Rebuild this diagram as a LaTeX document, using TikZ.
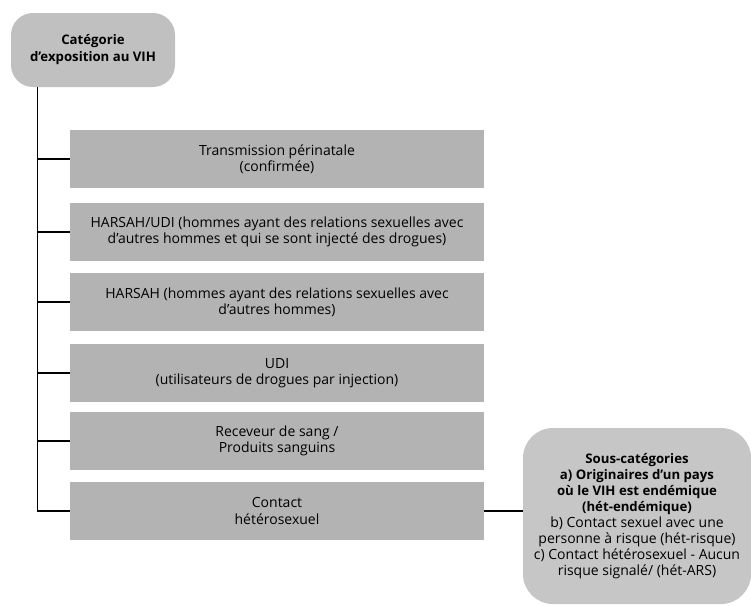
\documentclass[tikz,border=0pt]{standalone}
\usepackage{fontspec}
\setmainfont{Open Sans}
\usepackage{tikz}
\usetikzlibrary{positioning}

\definecolor{catgray}{HTML}{C0C0C0}
\definecolor{boxgray}{HTML}{B3B3B3}
\definecolor{subgray}{HTML}{C6C6C6}
\newcommand{\subhead}[1]{{\fontsize{13.2}{16}\selectfont\bfseries #1}}

\begin{document}
\begin{tikzpicture}[
                    x=1pt, y=-1pt,
                    every node/.style={font=\fontsize{14}{16.4}\selectfont},
                    cat/.style={fill=catgray, rounded corners=22pt, align=center, minimum width=164pt, minimum height=74pt, font=\fontsize{13.2}{17}\selectfont\bfseries},
                    entry/.style={fill=boxgray, align=center, minimum width=414pt, minimum height=58pt},
                    sub/.style={fill=subgray, rounded corners=30pt, align=center, minimum width=228pt, minimum height=176pt, inner sep=0pt, font=\fontsize{14}{16}\selectfont},
                    link/.style={line width=1.2pt, black}
                ]
                    \useasboundingbox (0,0) rectangle (751,605);

                    % Main category
                    \node[cat] (Cat) at (93,50) {Catégorie\\d’exposition au VIH};

                    % Categories
                    \node[entry] (B1) at (277,159) {Transmission périnatale\\(confirmée)};
                    \node[entry] (B2) at (277,232) {HARSAH/UDI (hommes ayant des relations sexuelles avec\\d’autres hommes et qui se sont injecté des drogues)};
                    \node[entry] (B3) at (277,302) {HARSAH (hommes ayant des relations sexuelles avec\\d’autres hommes)};
                    \node[entry] (B4) at (277,373) {UDI\\(utilisateurs de drogues par injection)};
                    \node[entry] (B5) at (277,441) {Receveur de sang /\\Produits sanguins};
                    \node[entry] (B6) at (277,511) {Contact\\hétérosexuel};

                    % Sub-categories
                    \node[sub] (Sub) at (637,516) {\subhead{Sous-catégories}\\\subhead{a) Originaires d’un pays}\\\subhead{où le VIH est endémique}\\\subhead{(hét-endémique)}\\b) Contact sexuel avec une\\personne à risque (hét-risque)\\c) Contact hétérosexuel - Aucun\\risque signalé/ (hét-ARS)};

                    % Connectors
                    \coordinate (Trunk) at ([xshift=27pt]Cat.south west);
                    \draw[link] (Trunk) |- (B6.west);
                    \foreach \b in {B1,B2,B3,B4,B5}
                        \draw[link] (Trunk |- \b.west) -- (\b.west);
                    \draw[link] (B6.east) -- (B6.east -| Sub.west);
                \end{tikzpicture}
\end{document}
